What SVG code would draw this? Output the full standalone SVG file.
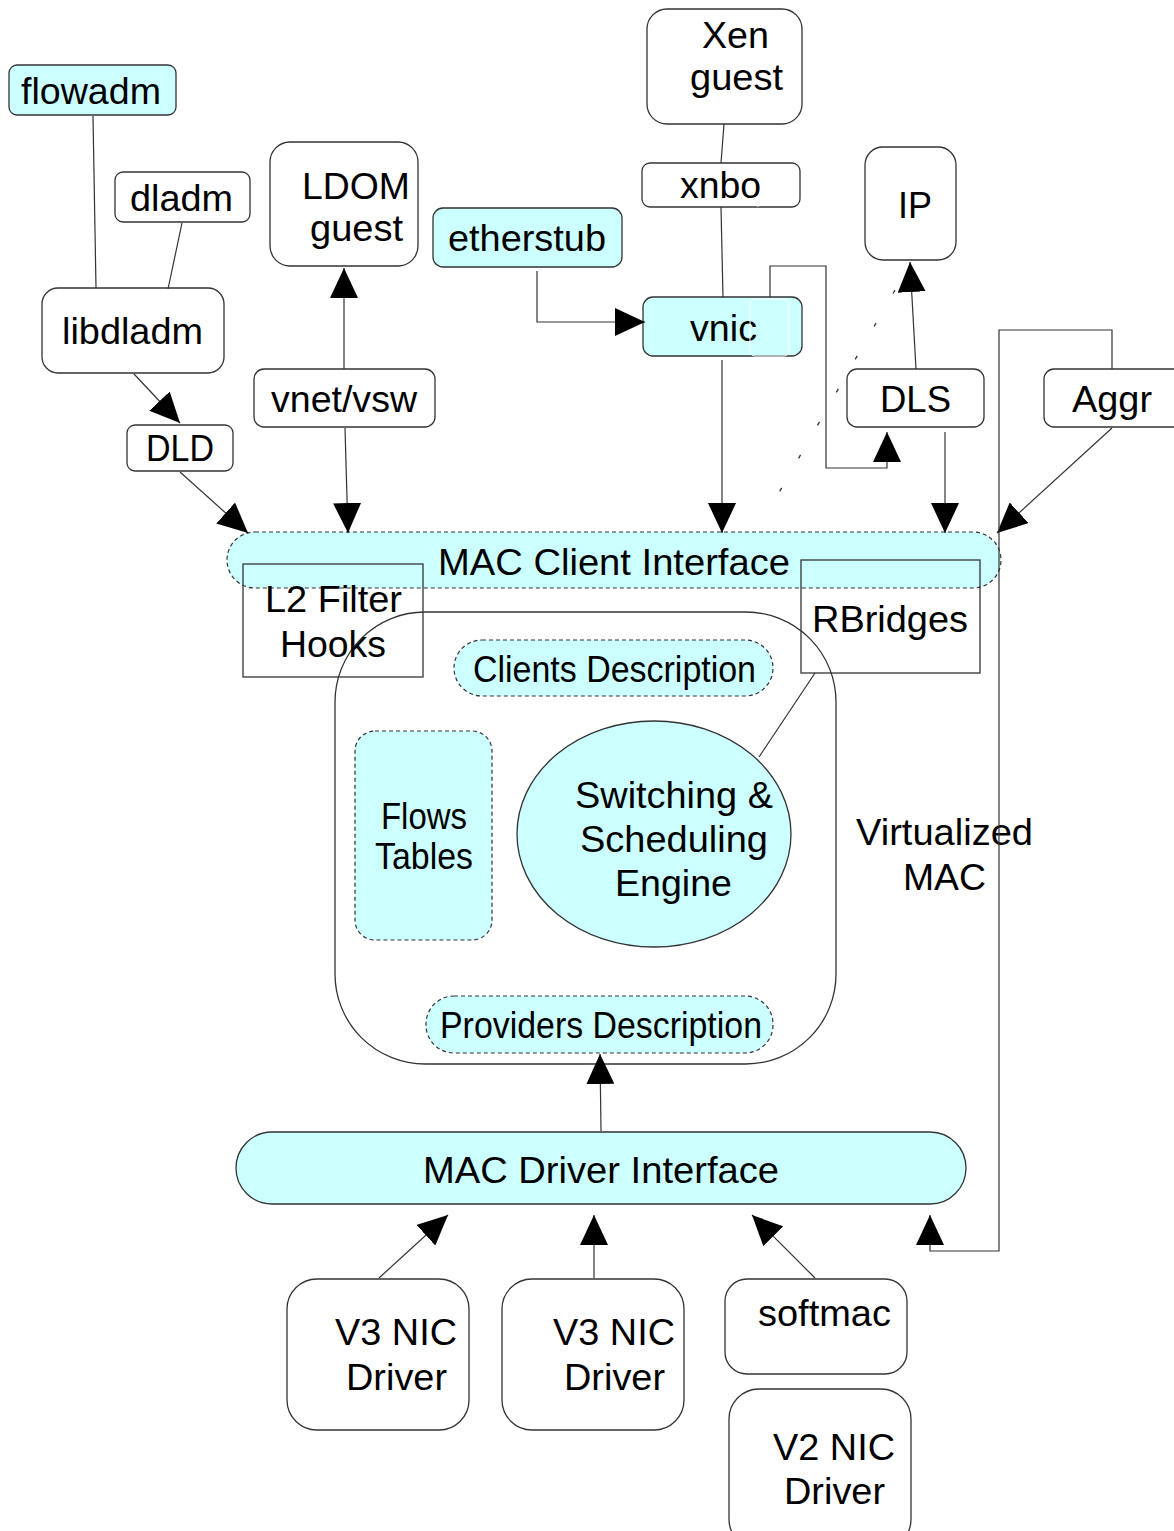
<svg xmlns="http://www.w3.org/2000/svg" width="1174" height="1531" viewBox="0 0 1174 1531">
<style>
text{font-family:"Liberation Sans",Arial,sans-serif;font-size:37px;fill:#000}
.box{fill:#fff;stroke:#333;stroke-width:1.3}
.cy{fill:#ccffff;stroke:#333;stroke-width:1.3}
.cyd{fill:#ccffff;stroke:#333;stroke-width:1.2;stroke-dasharray:4 3}
.plain{fill:none;stroke:#333;stroke-width:1.3}
.ln{fill:none;stroke:#333;stroke-width:1.2}
.arr{fill:none;stroke:#333;stroke-width:1.2;marker-end:url(#ah)}
</style>
<defs>
<marker id="ah" markerUnits="userSpaceOnUse" markerWidth="32" markerHeight="28" refX="30" refY="14" orient="auto">
<path d="M0,0 L30,14 L0,28 Z" fill="#000"/>
</marker>
</defs>
<rect width="1174" height="1531" fill="#fff"/>

<g id="mac-client">
<rect class="cyd" x="227" y="532" width="774" height="56" rx="28"/>
<text x="438" y="575" textLength="352" lengthAdjust="spacingAndGlyphs">MAC Client Interface</text>
</g>
<g id="virtualized-mac">
<rect class="plain" x="335" y="612" width="501" height="452" rx="90"/>
<text x="856" y="845" textLength="177" lengthAdjust="spacingAndGlyphs">Virtualized</text>
<text x="903" y="890" textLength="83" lengthAdjust="spacingAndGlyphs">MAC</text>
</g>
<g id="l2-filter">
<rect class="plain" x="243" y="564" width="180" height="113"/>
<text x="265" y="612" textLength="137" lengthAdjust="spacingAndGlyphs">L2 Filter</text>
<text x="280" y="657" textLength="106" lengthAdjust="spacingAndGlyphs">Hooks</text>
</g>
<g id="rbridges">
<rect class="plain" x="801" y="560" width="179" height="113"/>
<text x="812" y="632" textLength="156" lengthAdjust="spacingAndGlyphs">RBridges</text>
</g>
<g id="clients-desc">
<rect class="cyd" x="454" y="640" width="319" height="56" rx="28"/>
<text x="473" y="682" textLength="283" lengthAdjust="spacingAndGlyphs">Clients Description</text>
</g>
<g id="flows-tables">
<rect class="cyd" x="355" y="731" width="137" height="209" rx="20"/>
<text x="381" y="829" textLength="86" lengthAdjust="spacingAndGlyphs">Flows</text>
<text x="375" y="869" textLength="98" lengthAdjust="spacingAndGlyphs">Tables</text>
</g>
<g id="switching">
<ellipse class="cy" cx="654" cy="834" rx="137" ry="113"/>
<text x="575" y="808" textLength="198" lengthAdjust="spacingAndGlyphs">Switching &amp;</text>
<text x="580" y="852" textLength="188" lengthAdjust="spacingAndGlyphs">Scheduling</text>
<text x="615" y="896" textLength="117" lengthAdjust="spacingAndGlyphs">Engine</text>
</g>
<g id="providers-desc">
<rect class="cyd" x="426" y="996" width="347" height="57" rx="28"/>
<text x="440" y="1038" textLength="322" lengthAdjust="spacingAndGlyphs">Providers Description</text>
</g>
<g id="mac-driver">
<rect class="cy" x="236" y="1132" width="730" height="72" rx="36"/>
<text x="423" y="1183" textLength="356" lengthAdjust="spacingAndGlyphs">MAC Driver Interface</text>
</g>

<g id="flowadm">
<rect class="cy" x="9" y="65" width="167" height="50" rx="8"/>
<text x="21" y="104" textLength="140" lengthAdjust="spacingAndGlyphs">flowadm</text>
</g>
<g id="dladm">
<rect class="box" x="115" y="172" width="135" height="50" rx="8"/>
<text x="130" y="211" textLength="103" lengthAdjust="spacingAndGlyphs">dladm</text>
</g>
<g id="libdladm">
<rect class="box" x="42" y="288" width="182" height="85" rx="16"/>
<text x="62" y="344" textLength="141" lengthAdjust="spacingAndGlyphs">libdladm</text>
</g>
<g id="dld">
<rect class="box" x="127" y="425" width="106" height="46" rx="8"/>
<text x="146" y="461" textLength="68" lengthAdjust="spacingAndGlyphs">DLD</text>
</g>
<g id="ldom">
<rect class="box" x="270" y="142" width="148" height="124" rx="20"/>
<text x="302" y="199" textLength="108" lengthAdjust="spacingAndGlyphs">LDOM</text>
<text x="310" y="241" textLength="93" lengthAdjust="spacingAndGlyphs">guest</text>
</g>
<g id="vnet">
<rect class="box" x="254" y="369" width="181" height="58" rx="10"/>
<text x="271" y="412" textLength="146" lengthAdjust="spacingAndGlyphs">vnet/vsw</text>
</g>
<g id="etherstub">
<rect class="cy" x="433" y="208" width="189" height="59" rx="10"/>
<text x="448" y="251" textLength="158" lengthAdjust="spacingAndGlyphs">etherstub</text>
</g>
<g id="xen">
<rect class="box" x="647" y="9" width="155" height="115" rx="20"/>
<text x="702" y="48" textLength="67" lengthAdjust="spacingAndGlyphs">Xen</text>
<text x="690" y="90" textLength="93" lengthAdjust="spacingAndGlyphs">guest</text>
</g>
<g id="xnbo">
<rect class="box" x="642" y="163" width="158" height="44" rx="8"/>
<text x="680" y="198" textLength="81" lengthAdjust="spacingAndGlyphs">xnbo</text>
<line x1="758" y1="197" x2="758" y2="207" stroke="#fff" stroke-width="1"/>
</g>
<g id="vnic">
<rect class="cy" x="643" y="297" width="159" height="59" rx="10"/>
<text x="690" y="341" textLength="67" lengthAdjust="spacingAndGlyphs">vnic</text>
<rect x="750" y="299" width="39" height="57" rx="5" fill="none" stroke="#fff" stroke-width="1"/>
</g>
<g id="ip">
<rect class="box" x="865" y="147" width="91" height="113" rx="18"/>
<text x="898" y="218" textLength="34" lengthAdjust="spacingAndGlyphs">IP</text>
</g>
<g id="dls">
<rect class="box" x="847" y="369" width="137" height="58" rx="10"/>
<text x="880" y="412" textLength="71" lengthAdjust="spacingAndGlyphs">DLS</text>
</g>
<g id="aggr">
<rect class="box" x="1044" y="369" width="140" height="58" rx="10"/>
<text x="1072" y="412" textLength="80" lengthAdjust="spacingAndGlyphs">Aggr</text>
</g>
<g id="v3nic1">
<rect class="box" x="287" y="1279" width="182" height="151" rx="30"/>
<text x="335" y="1345" textLength="122" lengthAdjust="spacingAndGlyphs">V3 NIC</text>
<text x="346" y="1390" textLength="101" lengthAdjust="spacingAndGlyphs">Driver</text>
</g>
<g id="v3nic2">
<rect class="box" x="502" y="1279" width="182" height="151" rx="30"/>
<text x="553" y="1345" textLength="122" lengthAdjust="spacingAndGlyphs">V3 NIC</text>
<text x="564" y="1390" textLength="101" lengthAdjust="spacingAndGlyphs">Driver</text>
</g>
<g id="softmac">
<rect class="box" x="725" y="1279" width="182" height="95" rx="22"/>
<text x="758" y="1326" textLength="133" lengthAdjust="spacingAndGlyphs">softmac</text>
</g>
<g id="v2nic">
<rect class="box" x="729" y="1389" width="182" height="160" rx="30"/>
<text x="773" y="1460" textLength="122" lengthAdjust="spacingAndGlyphs">V2 NIC</text>
<text x="784" y="1504" textLength="101" lengthAdjust="spacingAndGlyphs">Driver</text>
</g>

<g id="connectors">
<line class="ln" x1="93" y1="116" x2="96" y2="288"/>
<line class="ln" x1="182" y1="223" x2="168" y2="289"/>
<line class="arr" x1="134" y1="374" x2="180" y2="423"/>
<line class="arr" x1="180" y1="472" x2="248" y2="533"/>
<line class="arr" x1="344" y1="369" x2="344" y2="268"/>
<line class="arr" x1="345" y1="428" x2="348" y2="533"/>
<polyline class="arr" points="537,271 537,322 645,322"/>
<line class="ln" x1="724" y1="124" x2="721" y2="163"/>
<line class="ln" x1="721" y1="207" x2="723" y2="297"/>
<line class="arr" x1="722" y1="360" x2="722" y2="533"/>
<polyline class="arr" points="770,297 770,266 826,266 826,468 887,468 887,432"/>
<line class="arr" x1="916" y1="369" x2="910" y2="262"/>
<line class="arr" x1="945" y1="432" x2="945" y2="533"/>
<line class="arr" x1="1112" y1="428" x2="997" y2="533"/>
<polyline class="arr" points="1112,369 1112,330 999,330 999,1251 930,1251 930,1215"/>
<line x1="895" y1="290" x2="777" y2="496" stroke="#333" stroke-width="1.3" stroke-dasharray="4 34"/>
<line class="ln" x1="815" y1="673" x2="759" y2="757"/>
<line class="arr" x1="601" y1="1131" x2="600" y2="1054"/>
<line class="arr" x1="379" y1="1278" x2="448" y2="1215"/>
<line class="arr" x1="594" y1="1278" x2="594" y2="1215"/>
<line class="arr" x1="815" y1="1278" x2="752" y2="1215"/>
</g>
</svg>
